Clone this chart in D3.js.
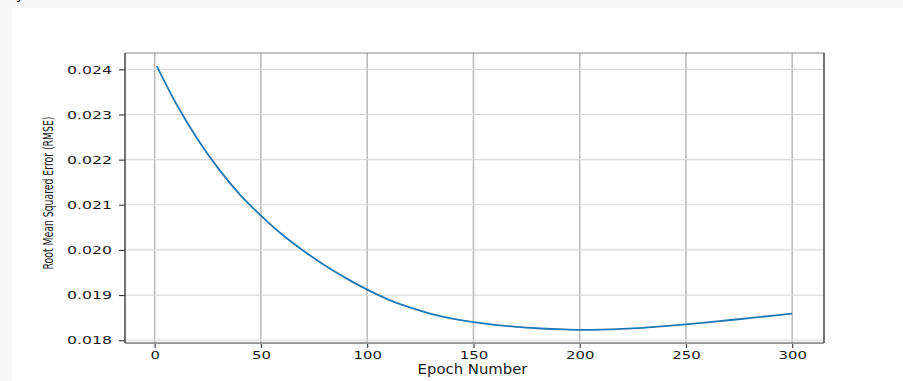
<!DOCTYPE html>
<html>
<head>
<meta charset="utf-8">
<script src="https://cdn.jsdelivr.net/npm/d3@7"></script>
<style>
  html, body { margin: 0; padding: 0; background: #f8f8f8; }
  svg { display: block; }
</style>
</head>
<body>
<svg id="chart" width="903" height="381"></svg>
<script>
// ---- data ----
const epochs = [1, 10, 20, 30, 40, 50, 60, 70, 80, 90, 100, 110, 120, 130, 140, 150, 160, 170, 180, 190, 200, 210, 220, 230, 240, 250, 260, 270, 280, 290, 300];
const rmse = [0.02407, 0.02325, 0.02247, 0.02180, 0.02123, 0.02076, 0.02034, 0.01998, 0.01966, 0.019375, 0.01912, 0.01890, 0.018725, 0.018585, 0.01848, 0.01840, 0.01834, 0.018295, 0.018265, 0.018245, 0.01823, 0.018235, 0.01825, 0.018275, 0.01831, 0.01835, 0.018395, 0.018442, 0.018491, 0.01854, 0.01859];
const xTicks = [0, 50, 100, 150, 200, 250, 300];
const yTicks = [0.018, 0.019, 0.020, 0.021, 0.022, 0.023, 0.024];
const xLabel = "Epoch Number";
const yLabel = "Root Mean Squared Error (RMSE)";

const svg = d3.select("#chart");
const W = 903, H = 381;
const plot = { left: 125, top: 53, right: 824, bottom: 343 };

// page background: white panel
svg.append("rect").attr("x", 12).attr("y", 8).attr("width", W - 12).attr("height", H - 8).attr("fill", "#ffffff");
// partial glyph at the top (descender of preceding text, cut off in the reference too)
svg.append("text").attr("x", 16).attr("y", -1).attr("font-family", "DejaVu Sans").attr("font-size", 14).attr("fill", "#111").text("y");

const pad = (ext, f) => { const r = ext[1] - ext[0]; return [ext[0] - r * f, ext[1] + r * f]; };
const x = d3.scaleLinear().domain(pad(d3.extent(epochs), 0.05)).range([plot.left, plot.right]);
const y = d3.scaleLinear().domain(pad(d3.extent(rmse), 0.05)).range([plot.bottom, plot.top]);

// grid
const g = svg.append("g");
g.selectAll(".vg").data(xTicks).join("line")
  .attr("x1", d => x(d)).attr("x2", d => x(d))
  .attr("y1", plot.top).attr("y2", plot.bottom)
  .attr("stroke", "#bdbdbd").attr("stroke-width", 1.6);
g.selectAll(".hg").data(yTicks).join("line")
  .attr("x1", plot.left).attr("x2", plot.right)
  .attr("y1", d => y(d)).attr("y2", d => y(d))
  .attr("stroke", "#dadada").attr("stroke-width", 1.2);

// line
const line = d3.line().x((d, i) => x(epochs[i])).y(d => y(d)).curve(d3.curveMonotoneX);
svg.append("path").datum(rmse).attr("d", line)
  .attr("fill", "none").attr("stroke", "#1f77b4").attr("stroke-width", 1.8);

// axes
const xAxis = d3.axisBottom(x).tickValues(xTicks).tickSize(5).tickPadding(4).tickFormat(d3.format("d"));
const yAxis = d3.axisLeft(y).tickValues(yTicks).tickSize(6).tickPadding(6).tickFormat(d3.format(".3f"));

const gx = svg.append("g").attr("transform", `translate(0,${plot.bottom})`).call(xAxis);
const gy = svg.append("g").attr("transform", `translate(${plot.left},0)`).call(yAxis);
[gx, gy].forEach(a => {
  a.select(".domain").remove();
  a.selectAll(".tick line").attr("stroke", "#333").attr("stroke-width", 1.1);
  a.selectAll(".tick text").attr("font-family", "DejaVu Sans").attr("font-size", 10.5).attr("fill", "#1a1a1a");
});
// horizontally stretched tick labels
gx.selectAll(".tick text").attr("y", 0).attr("dy", 0)
  .attr("transform", "translate(0,16) scale(1.42,1)");
gy.selectAll(".tick text").attr("x", 0).attr("dy", "0.36em")
  .attr("transform", "translate(-13,0) scale(1.5,1)");

// spines
svg.append("line").attr("x1", plot.left).attr("x2", plot.right).attr("y1", plot.top).attr("y2", plot.top).attr("stroke", "#888").attr("stroke-width", 1);
svg.append("line").attr("x1", plot.left).attr("x2", plot.right).attr("y1", plot.bottom).attr("y2", plot.bottom).attr("stroke", "#999").attr("stroke-width", 2);
svg.append("line").attr("x1", plot.left).attr("x2", plot.left).attr("y1", plot.top).attr("y2", plot.bottom).attr("stroke", "#444").attr("stroke-width", 1.5);
svg.append("line").attr("x1", plot.right).attr("x2", plot.right).attr("y1", plot.top).attr("y2", plot.bottom).attr("stroke", "#444").attr("stroke-width", 1.5);

// axis labels
svg.append("text")
  .attr("transform", `translate(${(plot.left + plot.right) / 2 - 2},374) scale(1.1,1)`)
  .attr("text-anchor", "middle").attr("font-family", "DejaVu Sans").attr("font-size", 13.5).attr("fill", "#1a1a1a")
  .text(xLabel);
svg.append("text")
  .attr("transform", `translate(52.5,193) rotate(-90) scale(1,1.5)`)
  .attr("text-anchor", "middle").attr("font-family", "DejaVu Sans").attr("font-size", 9.3).attr("fill", "#1a1a1a")
  .text(yLabel);
</script>
</body>
</html>
